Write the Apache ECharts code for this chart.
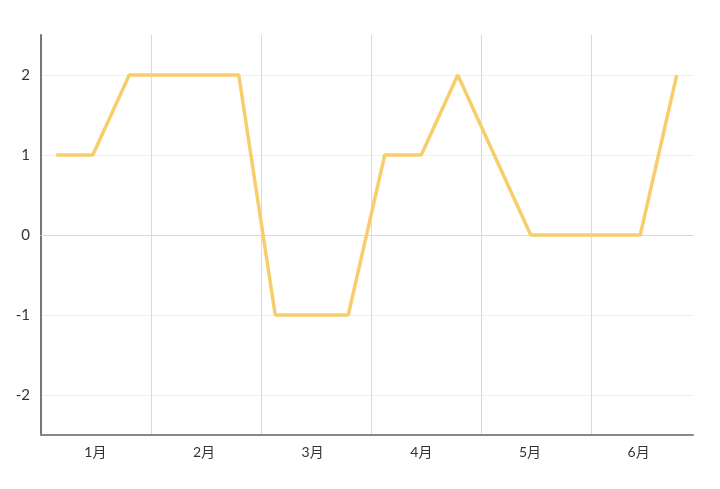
<!DOCTYPE html>
<html>
<head>
<meta charset="utf-8">
<script src="https://cdn.jsdelivr.net/npm/echarts@6/dist/echarts.min.js"></script>
<style>html,body{margin:0;padding:0;background:#fff;}#chart{width:720px;height:489px;}</style>
</head>
<body>
<div id="chart"></div>
<script>
const months = ['1月', '2月', '3月', '4月', '5月', '6月'];
const points = ['1', '2', '3', '4', '5', '6', '7', '8', '9', '10', '11', '12', '13', '14', '15', '16', '17', '18'];
const values = [1, 1, 2, 2, 2, 2, -1, -1, -1, 1, 1, 2, 1, 0, 0, 0, 0, 2];
const yMin = -2.5;
const yMax = 2.5;

const chart = echarts.init(document.getElementById('chart'));
const font = 'Lato, "Noto Sans CJK SC", sans-serif';
const hiddenY = (gi) => ({
  type: 'value', gridIndex: gi, min: yMin, max: yMax, show: false,
  axisLine: { show: false }, axisLabel: { show: false }, axisTick: { show: false }, splitLine: { show: false }
});
chart.setOption({
  animation: false,
  grid: [
    { left: 41, right: 27, top: 35, bottom: 54 },
    { left: 41, right: 19, top: 35, bottom: 54 },
    { left: 38, right: 25, top: 35, bottom: 54 }
  ],
  xAxis: [
    {
      type: 'category', gridIndex: 0, data: months, boundaryGap: true, position: 'bottom',
      axisLine: { onZero: false, lineStyle: { color: '#888', width: 2 } },
      axisTick: { show: false },
      axisLabel: { color: '#333', fontSize: 14, fontFamily: font, margin: 10 },
      splitLine: { show: false }
    },
    {
      type: 'category', gridIndex: 0, data: months, boundaryGap: true, position: 'bottom',
      axisLine: { show: true, onZero: true, lineStyle: { color: '#d9d9d9', width: 1 } },
      axisTick: { show: false },
      axisLabel: { show: false },
      splitLine: { show: false }
    },
    {
      type: 'category', gridIndex: 1, data: months, boundaryGap: true, position: 'bottom',
      axisLine: { show: false },
      axisTick: { show: false },
      axisLabel: { show: false },
      splitLine: { show: true, showMinLine: false, showMaxLine: false, lineStyle: { color: '#dadada', width: 1 } }
    },
    {
      type: 'category', gridIndex: 2, data: points, boundaryGap: true, position: 'bottom',
      axisLine: { show: false },
      axisTick: { show: false },
      axisLabel: { show: false },
      splitLine: { show: false }
    }
  ],
  yAxis: [
    {
      type: 'value', gridIndex: 0, min: yMin, max: yMax, splitNumber: 5,
      axisLine: { show: true, lineStyle: { color: '#777', width: 2 } },
      axisTick: { show: false },
      axisLabel: { color: '#333', fontSize: 15, fontFamily: font, margin: 11, showMinLabel: false, showMaxLabel: false },
      splitLine: { show: true, showMinLine: false, showMaxLine: false, lineStyle: { color: '#f0f0f0', width: 1 } }
    },
    hiddenY(1),
    hiddenY(2)
  ],
  series: [{
    type: 'line',
    xAxisIndex: 3,
    yAxisIndex: 2,
    data: values,
    showSymbol: false,
    symbol: 'none',
    lineStyle: { color: '#f6cf6c', width: 3.5 }
  }]
});
</script>
</body>
</html>
